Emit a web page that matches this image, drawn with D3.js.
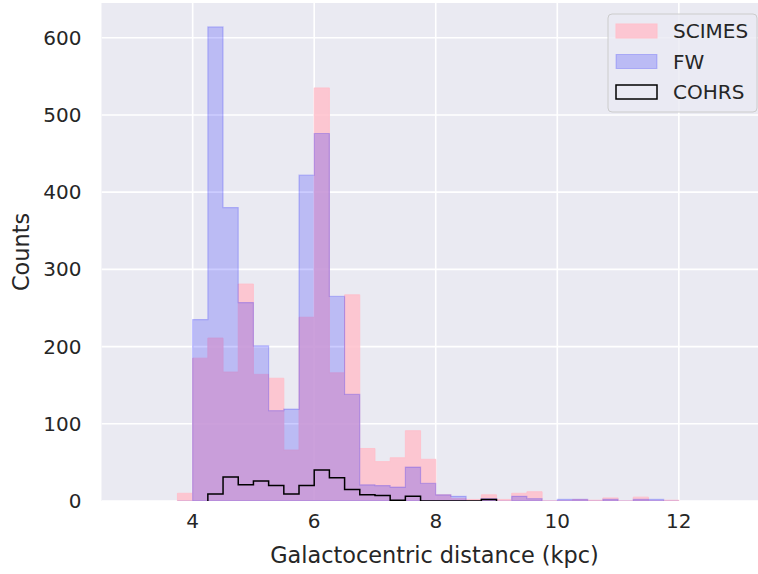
<!DOCTYPE html>
<html>
<head>
<meta charset="utf-8">
<script src="https://cdn.jsdelivr.net/npm/d3@7"></script>
<style>
  body { margin: 0; background: #fff; }
  text { font-family: "DejaVu Sans", sans-serif; fill: #262626; }
</style>
</head>
<body>
<div id="chart"></div>
<script>
// bin left edges, width 0.25 kpc
var binStart = 3.75
var binWidth = 0.25
var scimes = [10, 185, 211, 167, 281, 164, 159, 66, 238, 535, 166, 267, 68, 51, 56, 91, 54,
              8, 3, 2, 8, 2, 10, 12, 0, 0, 2, 1, 4, 0, 5, 0, 1]
var fw     = [0, 235, 614, 380, 257, 201, 117, 119, 422, 476, 265, 138, 21, 20, 18, 44, 23,
              8, 6, 0, 3, 0, 6, 3, 0, 2, 2, 0, 2, 0, 2, 2, 0]
var cohrsStart = 4.25
var cohrs  = [9, 31, 21, 26, 20, 9, 20, 40, 30, 15, 8, 7, 1, 6, 0, 0, 0, 0, 2]

var xTicks = [4, 6, 8, 10, 12]
var yTicks = [0, 100, 200, 300, 400, 500, 600]
var legendItems = ["SCIMES", "FW", "COHRS"]

var W = 758, H = 574
var pL = 101.5, pR = 770, pT = 3, pB = 501

var svg = d3.select("#chart").append("svg")
    .attr("width", W)
    .attr("height", H)

var x = d3.scaleLinear().domain([2.5, 13.5]).range([pL, pR])
var y = d3.scaleLinear().domain([0, 645]).range([pB, pT])

svg.append("defs").append("clipPath")
    .attr("id", "plotclip")
    .append("rect")
    .attr("x", pL).attr("y", pT)
    .attr("width", pR - pL).attr("height", pB - pT)

// background
svg.append("rect")
    .attr("x", pL).attr("y", pT)
    .attr("width", pR - pL).attr("height", pB - pT)
    .attr("fill", "#EAEAF2")

// grid
var grid = svg.append("g").attr("clip-path", "url(#plotclip)")
grid.selectAll(".gx").data(xTicks).enter().append("line")
    .attr("x1", function(d) { return x(d) }).attr("x2", function(d) { return x(d) })
    .attr("y1", pT).attr("y2", pB)
    .attr("stroke", "#fff").attr("stroke-width", 1.6)
grid.selectAll(".gy").data(yTicks).enter().append("line")
    .attr("y1", function(d) { return y(d) }).attr("y2", function(d) { return y(d) })
    .attr("x1", pL).attr("x2", pR)
    .attr("stroke", "#fff").attr("stroke-width", 1.6)

function stepPoints(start, vals) {
  var pts = [[start, 0]]
  vals.forEach(function(v, i) {
    pts.push([start + i * binWidth, v])
    pts.push([start + (i + 1) * binWidth, v])
  })
  pts.push([start + vals.length * binWidth, 0])
  return pts
}

var line = d3.line()
    .x(function(d) { return x(d[0]) })
    .y(function(d) { return y(d[1]) })

var marks = svg.append("g").attr("clip-path", "url(#plotclip)")

marks.append("path")
    .attr("d", line(stepPoints(binStart, scimes)) + "Z")
    .attr("fill", "#FFC0CB").attr("fill-opacity", 0.85)
    .attr("stroke", "#FFC0CB").attr("stroke-opacity", 0.85).attr("stroke-width", 1)

marks.append("path")
    .attr("d", line(stepPoints(binStart, fw)) + "Z")
    .attr("fill", "#0000ff").attr("fill-opacity", 0.2)
    .attr("stroke", "#0000ff").attr("stroke-opacity", 0.2).attr("stroke-width", 1.2)

marks.append("path")
    .attr("d", line(stepPoints(cohrsStart, cohrs)))
    .attr("fill", "none")
    .attr("stroke", "#000").attr("stroke-width", 1.5)

// tick labels
svg.selectAll(".xt").data(xTicks).enter().append("text")
    .attr("x", function(d) { return x(d) })
    .attr("y", pB + 27)
    .attr("text-anchor", "middle")
    .style("font-size", "20px")
    .text(function(d) { return d })

svg.selectAll(".yt").data(yTicks).enter().append("text")
    .attr("x", pL - 20)
    .attr("y", function(d) { return y(d) + 7 })
    .attr("text-anchor", "end")
    .style("font-size", "20px")
    .text(function(d) { return d })

svg.append("text")
    .attr("x", 434.5)
    .attr("y", 563)
    .attr("text-anchor", "middle")
    .style("font-size", "22.4px")
    .text("Galactocentric distance (kpc)")

svg.append("text")
    .attr("transform", "translate(29," + ((pT + pB) / 2) + ") rotate(-90)")
    .attr("text-anchor", "middle")
    .style("font-size", "22.4px")
    .text("Counts")

// legend
var lg = svg.append("g").attr("transform", "translate(608,14)")
lg.append("rect")
    .attr("width", 149).attr("height", 98)
    .attr("rx", 4).attr("ry", 4)
    .attr("fill", "#EAEAF2").attr("fill-opacity", 0.8)
    .attr("stroke", "#cccccc").attr("stroke-width", 1)

var items = lg.selectAll(".item").data(legendItems).enter().append("g")
    .attr("transform", function(d, i) { return "translate(0," + (i * 30.5) + ")" })

items.append("rect")
    .attr("x", 8).attr("y", 10)
    .attr("width", 41).attr("height", 14)
    .attr("fill", function(d, i) { return i === 0 ? "#FFC0CB" : i === 1 ? "#0000ff" : "none" })
    .attr("fill-opacity", function(d, i) { return i === 0 ? 0.85 : 0.2 })
    .attr("stroke", function(d, i) { return i === 0 ? "#FFC0CB" : i === 1 ? "rgba(0,0,255,0.2)" : "#000" })
    .attr("stroke-width", function(d, i) { return i === 2 ? 1.5 : 1 })

items.append("text")
    .attr("x", 65).attr("y", 24)
    .style("font-size", "20px")
    .text(function(d) { return d })
</script>
</body>
</html>
